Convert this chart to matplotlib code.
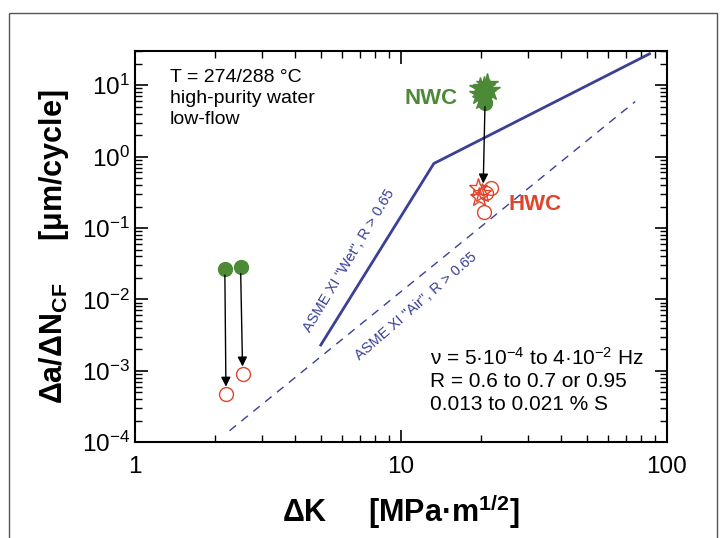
import numpy as np
import matplotlib
matplotlib.use('Agg')
import matplotlib.pyplot as plt
from matplotlib.patches import Rectangle

plt.rcParams['font.family'] = ['Liberation Sans', 'DejaVu Sans']
plt.rcParams['mathtext.fontset'] = 'custom'
plt.rcParams['mathtext.rm'] = 'Liberation Sans'
plt.rcParams['mathtext.it'] = 'Liberation Sans:italic'
plt.rcParams['mathtext.bf'] = 'Liberation Sans:bold'

# ASME XI reference curves (R > 0.65)
wet_dk = [5.0, 13.3, 86.0]
wet_rate = [2.3e-3, 0.80, 27.5]
air_dk = [2.27, 76.0]
air_rate = [1.45e-4, 5.9]

# low dK tests: NWC -> HWC
low_nwc_dk = [2.18, 2.50]
low_nwc_rate = [0.0265, 0.028]
low_hwc_dk = [2.20, 2.55]
low_hwc_rate = [4.7e-4, 8.9e-4]

# high dK tests
nwc_star_dk = [19.8, 20.5, 21.0, 20.3, 21.5, 19.9, 20.8]
nwc_star_rate = [7.5, 9.5, 10.5, 6.5, 8.5, 9.0, 7.8]
nwc_circ_dk = [20.8, 20.3]
nwc_circ_rate = [5.6, 7.0]
hwc_star_dk = [19.5, 19.6, 20.2]
hwc_star_rate = [0.36, 0.27, 0.31]
hwc_circ_dk = [21.8, 20.5, 20.9]
hwc_circ_rate = [0.36, 0.166, 0.31]

blue = '#3a3f98'
green = '#4d8a38'
red = '#e0452b'

fig = plt.figure(figsize=(7.21, 5.38), dpi=100)
ax = fig.add_axes([0.187, 0.178, 0.738, 0.727])

# outer frame
fig.patches.append(Rectangle((0.0125, -0.05), 0.982, 1.026, transform=fig.transFigure,
                             fill=False, edgecolor='#555555', lw=1.0))

ax.plot(wet_dk, wet_rate, color=blue, lw=2)
ax.plot(air_dk, air_rate, color=blue, lw=1, dashes=(6, 5))

ax.plot(low_nwc_dk, low_nwc_rate, 'o', color=green, ms=10)
ax.plot(low_hwc_dk, low_hwc_rate, 'o', mfc='none', mec=red, ms=10, mew=1)
ax.plot(nwc_star_dk, nwc_star_rate, '*', color=green, ms=16)
ax.plot(nwc_circ_dk, nwc_circ_rate, 'o', color=green, ms=10)
ax.plot(hwc_circ_dk, hwc_circ_rate, 'o', mfc='none', mec=red, ms=10, mew=1)
ax.plot(hwc_star_dk, hwc_star_rate, '*', mfc='none', mec=red, ms=14, mew=1)

# arrows NWC -> HWC
arrow_start = [(2.18, 0.022), (2.50, 0.023), (20.7, 5.0)]
arrow_end = [(2.20, 6.0e-4), (2.54, 1.15e-3), (20.4, 0.42)]
for s, e in zip(arrow_start, arrow_end):
    ax.annotate('', xy=e, xytext=s,
                arrowprops=dict(arrowstyle='-|>', color='black', lw=1,
                                mutation_scale=14, shrinkA=0, shrinkB=0))

ax.set_xscale('log')
ax.set_yscale('log')
ax.set_xlim(1, 100)
ax.set_ylim(1e-4, 30)
ax.set_xticks([1, 10, 100])
ax.set_xticklabels(['1', '10', '100'])
ax.set_yticks([1e-4, 1e-3, 1e-2, 1e-1, 1e0, 1e1])
ax.set_yticklabels(['$10^{-4}$', '$10^{-3}$', '$10^{-2}$', '$10^{-1}$', '$10^{0}$', '$10^{1}$'])
ax.yaxis.set_minor_locator(matplotlib.ticker.LogLocator(base=10, subs=np.arange(2, 10), numticks=20))
ax.xaxis.set_minor_locator(matplotlib.ticker.LogLocator(base=10, subs=np.arange(2, 10), numticks=20))
ax.yaxis.set_minor_formatter(matplotlib.ticker.NullFormatter())
ax.xaxis.set_minor_formatter(matplotlib.ticker.NullFormatter())
ax.tick_params(which='both', direction='in', top=True, right=True, labelsize=17.5)
ax.tick_params(which='major', length=9, width=1.2)
ax.tick_params(which='minor', length=5, width=1)
ax.tick_params(axis='x', pad=10)
for sp in ax.spines.values():
    sp.set_linewidth(1.5)

ax.set_xlabel('ΔK     [MPa·m$^{\\mathbf{1/2}}$]', fontsize=22, fontweight='bold', labelpad=10)
ax.set_ylabel('Δa/ΔN$_{\\mathbf{CF}}$     [μm/cycle]', fontsize=22,
              fontweight='bold', labelpad=8)

ax.text(0.066, 0.955, 'T = 274/288 °C\nhigh-purity water\nlow-flow', transform=ax.transAxes,
        fontsize=14, va='top', linespacing=1.3)
ax.text(0.555, 0.245, 'ν = 5·10$^{-4}$ to 4·10$^{-2}$ Hz\nR = 0.6 to 0.7 or 0.95\n0.013 to 0.021 % S',
        transform=ax.transAxes, fontsize=15, va='top', linespacing=1.25)

ax.text(10.3, 6.5, 'NWC', color=green, fontsize=16, fontweight='bold', va='center')
ax.text(25.3, 0.21, 'HWC', color=red, fontsize=16, fontweight='bold', va='center')

ax.text(6.38, 0.035, 'ASME XI "Wet", R > 0.65', color=blue, fontsize=10.5,
        rotation=59, ha='center', va='center', rotation_mode='anchor')
ax.text(11.4, 0.008, 'ASME XI "Air", R > 0.65', color=blue, fontsize=10.5,
        rotation=41, ha='center', va='center', rotation_mode='anchor')

plt.savefig('out.png', dpi=100)
